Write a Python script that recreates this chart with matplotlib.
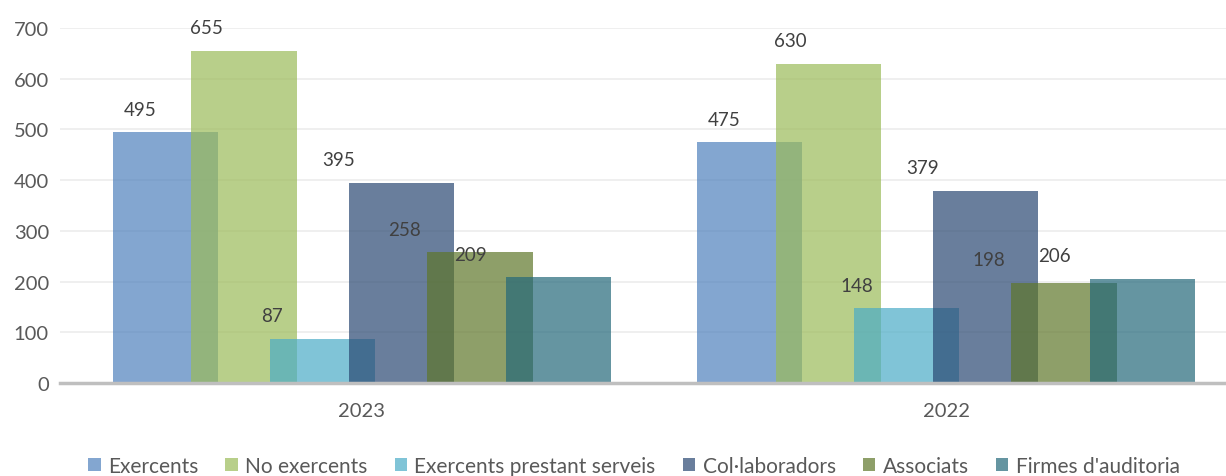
import numpy as np
import matplotlib.pyplot as plt

plt.rcParams['font.family'] = ['Lato', 'DejaVu Sans']

years = ['2023', '2022']
series = ['Exercents', 'No exercents', 'Exercents prestant serveis',
          'Col·laboradors', 'Associats', "Firmes d'auditoria"]
values = {
    'Exercents': [495, 475],
    'No exercents': [655, 630],
    'Exercents prestant serveis': [87, 148],
    'Col·laboradors': [395, 379],
    'Associats': [258, 198],
    "Firmes d'auditoria": [209, 206],
}
colors = ['#4f81bd', '#9bbb59', '#4bacc6', '#2a4872', '#5f762a', '#24687a']

fig = plt.figure(figsize=(12.26, 4.77), dpi=100)
ax = fig.add_axes([0.049, 0.195, 0.951, 0.744])

centers = np.array([0, 7.43])
width = 1.34
for i, name in enumerate(series):
    xs = centers + (i - 2.5)
    ax.bar(xs, values[name], width=width, color=colors[i], alpha=0.7,
           label=name, zorder=2 + i)
    # excel puts the labels slightly left of the bars
    for xc, v in zip(centers, values[name]):
        ax.annotate(str(v), (xc - 0.72 + (i - 2.5) * 0.84, v),
                    xytext=(0, 16.5), textcoords='offset points',
                    ha='center', va='center', fontsize=13.5, color='#404040',
                    zorder=20)

ax.set_xlim(-3.84, 10.99)
ax.set_ylim(0, 700)
ax.set_yticks(range(0, 701, 100))
ax.set_xticks(centers)
ax.set_xticklabels(years)
ax.grid(axis='y', color='#ececec', linewidth=1.2, zorder=0)
ax.set_axisbelow(True)
for s in ['top', 'right', 'left']:
    ax.spines[s].set_visible(False)
ax.spines['bottom'].set_color('#bfbfbf')
ax.spines['bottom'].set_linewidth(2.5)
ax.spines['bottom'].set_zorder(30)
ax.tick_params(axis='both', length=0, labelsize=14.5, labelcolor='#595959')
ax.tick_params(axis='x', pad=14)
ax.tick_params(axis='y', pad=8)

fig.legend(loc='center', bbox_to_anchor=(0.517, 0.022), ncol=6, frameon=False,
           fontsize=15, handlelength=0.6, handleheight=0.6, handletextpad=0.35,
           columnspacing=1.3, labelcolor='#595959')

fig.savefig('out.png', dpi=100)
